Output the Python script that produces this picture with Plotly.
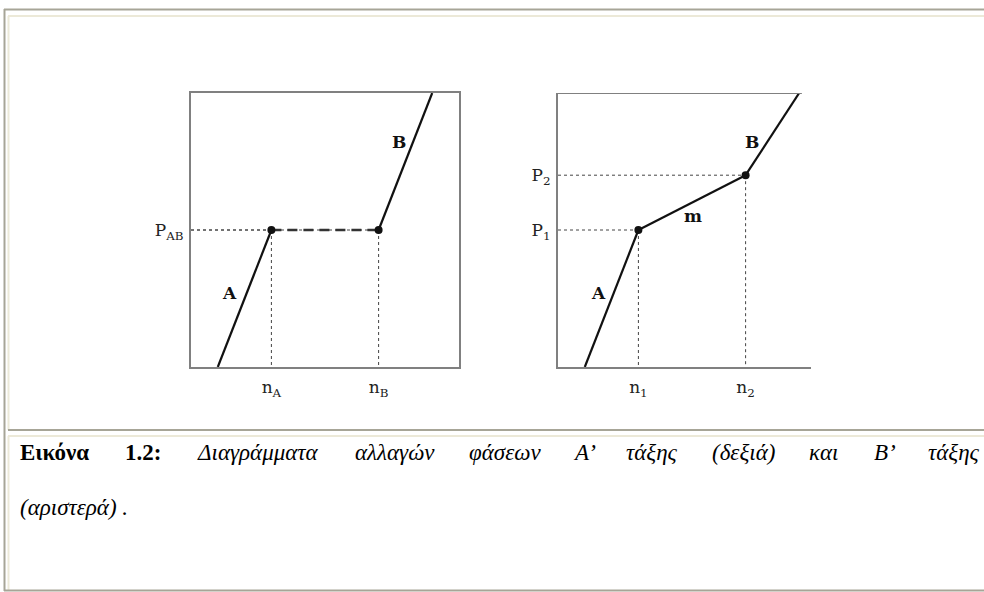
import plotly.graph_objects as go

W, H = 984, 592

# ---- left diagram: first-order transition (P_AB plateau) ----
left_n = [3, 7]                 # n_A, n_B
left_n_labels = ["n<sub>A</sub>", "n<sub>B</sub>"]
left_P = [5]                    # P_AB
left_P_labels = ["P<sub>AB</sub>"]
left_A_x, left_A_y = [1, 3], [0, 5]
left_B_x, left_B_y = [7, 9], [5, 10]

# ---- right diagram: second-order transition (mixed branch m) ----
right_n = [3, 7]                # n_1, n_2
right_n_labels = ["n<sub>1</sub>", "n<sub>2</sub>"]
right_P = [5, 7]                # P_1, P_2
right_P_labels = ["P<sub>1</sub>", "P<sub>2</sub>"]
right_A_x, right_A_y = [1, 3], [0, 5]
right_m_x, right_m_y = [3, 7], [5, 7]
right_B_x, right_B_y = [7, 9], [7, 10]

caption_words = ["Εικόνα", "1.2:", "Διαγράμματα", "αλλαγών", "φάσεων", "Α’", "τάξης",
                 "(δεξιά)", "και", "Β’", "τάξης"]
caption_bold_count = 2
caption_line2 = "(αριστερά) ."

SERIF = "DejaVu Serif"
CAP_FONT = "Liberation Serif, Times New Roman, serif"
INK = "#111111"
FRAME = "#808080"
GUIDE = "#444444"


def px(x):
    return x / W


def py(y):
    return 1 - y / H


fig = go.Figure()


def solid(x, y, xa, ya):
    fig.add_trace(go.Scatter(x=x, y=y, mode="lines", xaxis=xa, yaxis=ya,
                             line=dict(color=INK, width=2.2), hoverinfo="skip"))


def guides(nx, p, xa, ya):
    # dotted drop lines from a transition point to both axes
    fig.add_trace(go.Scatter(x=[0, nx], y=[p, p], mode="lines", xaxis=xa, yaxis=ya,
                             line=dict(color=GUIDE, width=1, dash="dot"), hoverinfo="skip"))
    fig.add_trace(go.Scatter(x=[nx, nx], y=[p, 0], mode="lines", xaxis=xa, yaxis=ya,
                             line=dict(color=GUIDE, width=1, dash="dot"), hoverinfo="skip"))


# left panel
for nx in left_n:
    guides(nx, left_P[0], "x", "y")
solid(left_A_x, left_A_y, "x", "y")
solid(left_B_x, left_B_y, "x", "y")
fig.add_trace(go.Scatter(x=left_n, y=[left_P[0]] * 2, mode="lines+markers", xaxis="x", yaxis="y",
                         line=dict(color="#333333", width=2.5, dash="10px,6px"),
                         marker=dict(color=INK, size=8), cliponaxis=False, hoverinfo="skip"))

# right panel
for nx, p in zip(right_n, right_P):
    guides(nx, p, "x2", "y2")
solid(right_A_x, right_A_y, "x2", "y2")
solid(right_m_x, right_m_y, "x2", "y2")
solid(right_B_x, right_B_y, "x2", "y2")
fig.add_trace(go.Scatter(x=right_n, y=right_P, mode="markers", xaxis="x2", yaxis="y2",
                         marker=dict(color=INK, size=8), cliponaxis=False, hoverinfo="skip"))

tick_font = dict(family=SERIF, size=17, color="#222222")
axis_common = dict(showgrid=False, zeroline=False, showline=True, linecolor=FRAME,
                   linewidth=2, ticks="", fixedrange=True, tickfont=tick_font)

fig.update_layout(
    width=W, height=H, margin=dict(l=0, r=0, t=0, b=0),
    paper_bgcolor="white", plot_bgcolor="white", showlegend=False,
    xaxis=dict(domain=[px(191), px(459)], range=[0, 10], tickvals=left_n,
               ticktext=left_n_labels, mirror=True, anchor="y", ticklabelstandoff=4, **axis_common),
    yaxis=dict(domain=[py(367), py(93)], range=[0, 10], tickvals=left_P,
               ticktext=left_P_labels, mirror=True, anchor="x", ticklabelstandoff=2, **axis_common),
    xaxis2=dict(domain=[px(558), px(811)], range=[0, 253 / 26.8], tickvals=right_n,
                ticktext=right_n_labels, anchor="y2", ticklabelstandoff=4, **axis_common),
    yaxis2=dict(domain=[py(367), py(93)], range=[0, 10], tickvals=right_P,
                ticktext=right_P_labels, anchor="x2", ticklabelstandoff=2, **axis_common),
)

# top edge of the right frame stops short of the axis end
fig.add_shape(type="line", xref="x2", yref="y2", x0=0, x1=9.1, y0=10, y1=10,
              line=dict(color=FRAME, width=2))

# branch labels
lab_font = dict(family=SERIF, size=17, color=INK)
for xa, ya, x, y, t in [("x", "y", 1.45, 2.7, "A"), ("x", "y", 7.75, 8.2, "B"),
                        ("x2", "y2", 1.5, 2.7, "A"), ("x2", "y2", 5.05, 5.5, "m"),
                        ("x2", "y2", 7.25, 8.2, "B")]:
    fig.add_annotation(xref=xa, yref=ya, x=x, y=y, text=f"<b>{t}</b>", showarrow=False,
                       font=lab_font)

# page frame (table borders)
DARK_B, LIGHT_B = "#a7a597", "#ece9d8"
for (x0, y0, x1, y1, c) in [(4, 9.5, 984, 9.5, DARK_B), (4.5, 9, 4.5, 591, DARK_B),
                            (8, 16, 984, 16, LIGHT_B), (8.5, 16, 8.5, 430, LIGHT_B),
                            (8, 430, 984, 430, DARK_B), (8, 436, 984, 436, LIGHT_B),
                            (8.5, 436, 8.5, 590, LIGHT_B), (4, 590.5, 984, 590.5, DARK_B)]:
    fig.add_shape(type="line", xref="paper", yref="paper", x0=px(x0), x1=px(x1),
                  y0=py(y0), y1=py(y1), line=dict(color=c, width=2))

# caption: first line justified between the cell padding edges,
# using approximate rendered word widths at this font size
cap_font = dict(family=CAP_FONT, size=23, color="#000000")
word_w = [71, 38, 124, 80, 70, 20, 52, 63, 31, 20, 54]
left_edge, right_edge = 18, 980
gap = (right_edge - left_edge - sum(word_w)) / (len(word_w) - 1)
x = left_edge
for i, (t, w) in enumerate(zip(caption_words, word_w)):
    txt = f"<b>{t}</b>" if i < caption_bold_count else f"<i>{t}</i>"
    fig.add_annotation(xref="paper", yref="paper", x=px(x), y=py(467), xanchor="left",
                       text=txt, showarrow=False, font=cap_font)
    x += w + gap
fig.add_annotation(xref="paper", yref="paper", x=px(18), y=py(522), xanchor="left",
                   text=f"<i>{caption_line2}</i>", showarrow=False, font=cap_font)

fig.write_html("out.html")
